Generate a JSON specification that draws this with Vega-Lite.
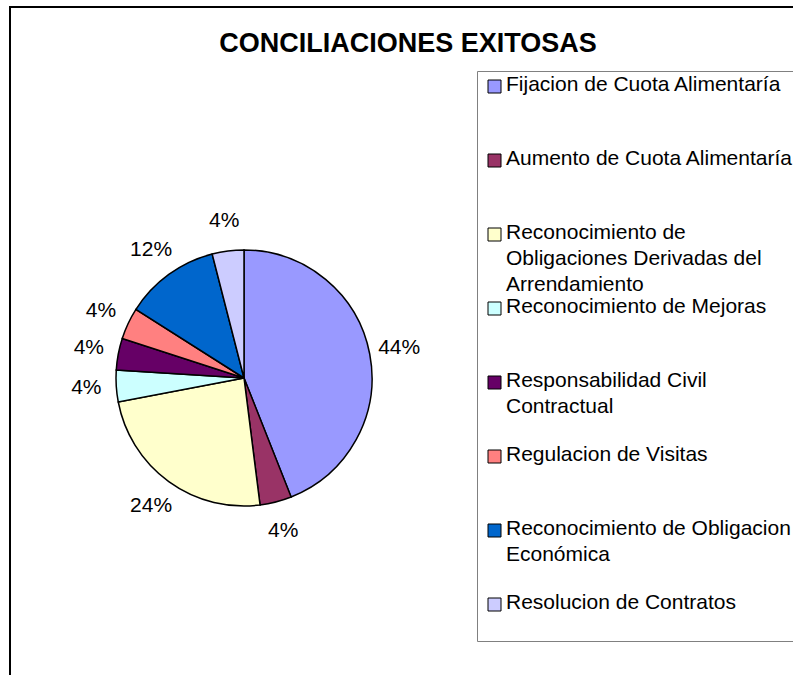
{
  "$schema": "https://vega.github.io/schema/vega-lite/v6.json",
  "autosize": {"type": "none"},
  "width": 796,
  "height": 700,
  "padding": {"left": 10, "top": 7, "right": -13, "bottom": -32},
  "background": "white",
  "view": {"stroke": "#000000", "strokeWidth": 2, "fill": "#ffffff"},
  "title": {
    "text": "CONCILIACIONES EXITOSAS",
    "font": "Liberation Sans",
    "fontSize": 27,
    "fontWeight": "bold",
    "color": "#000000",
    "anchor": "middle",
    "baseline": "alphabetic",
    "offset": -46,
    "dy": 26
  },
  "data": {
    "values": [
      {"orden": 1, "tipo": "Fijacion de Cuota Alimentaría", "pct": 0.44},
      {"orden": 2, "tipo": "Aumento de Cuota Alimentaría", "pct": 0.04},
      {"orden": 3, "tipo": "Reconocimiento de Obligaciones Derivadas del Arrendamiento", "pct": 0.24},
      {"orden": 4, "tipo": "Reconocimiento de Mejoras", "pct": 0.04},
      {"orden": 5, "tipo": "Responsabilidad Civil Contractual", "pct": 0.04},
      {"orden": 6, "tipo": "Regulacion de Visitas", "pct": 0.04},
      {"orden": 7, "tipo": "Reconocimiento de Obligacion Económica", "pct": 0.12},
      {"orden": 8, "tipo": "Resolucion de Contratos", "pct": 0.04}
    ]
  },
  "encoding": {
    "theta": {"field": "pct", "type": "quantitative", "stack": true},
    "order": {"field": "orden", "type": "quantitative"}
  },
  "layer": [
    {
      "mark": {"type": "arc", "outerRadius": 128, "x": 234, "y": 371, "stroke": "#000000", "strokeWidth": 1.5},
      "encoding": {
        "color": {
          "field": "tipo",
          "type": "nominal",
          "scale": {
            "domain": [
              "Fijacion de Cuota Alimentaría",
              "Aumento de Cuota Alimentaría",
              "Reconocimiento de Obligaciones Derivadas del Arrendamiento",
              "Reconocimiento de Mejoras",
              "Responsabilidad Civil Contractual",
              "Regulacion de Visitas",
              "Reconocimiento de Obligacion Económica",
              "Resolucion de Contratos"
            ],
            "range": ["#9999FF", "#993366", "#FFFFCC", "#CCFFFF", "#660066", "#FF8080", "#0066CC", "#CCCCFF"]
          },
          "legend": {
            "orient": "none",
            "legendX": 467,
            "legendY": 64,
            "title": "\u00a0",
            "titleOrient": "bottom",
            "titleFontSize": 10,
            "titlePadding": 13,
            "symbolType": "square",
            "symbolSize": 169,
            "symbolStrokeColor": "#000000",
            "symbolStrokeWidth": 1,
            "symbolOpacity": 1,
            "labelFont": "Liberation Sans",
            "labelFontSize": 21,
            "labelColor": "#000000",
            "labelLimit": 400,
            "labelBaseline": "top",
            "labelOffset": 1,
            "symbolOffset": 2,
            "gridAlign": "all",
            "rowPadding": 1,
            "padding": 5,
            "strokeColor": "#808080",
            "fillColor": "#ffffff",
            "labelExpr": "datum.label == 'Reconocimiento de Obligaciones Derivadas del Arrendamiento' ? ['Reconocimiento de', 'Obligaciones Derivadas del', 'Arrendamiento'] : datum.label == 'Responsabilidad Civil Contractual' ? ['Responsabilidad Civil', 'Contractual'] : datum.label == 'Reconocimiento de Obligacion Económica' ? ['Reconocimiento de Obligacion', 'Económica'] : datum.label",
            "encode": {"labels": {"update": {"dy": {"value": -12.5}, "lineHeight": {"value": 26}}}}
          }
        }
      }
    },
    {
      "mark": {"type": "text", "radius": 158, "x": 234, "y": 371, "font": "Liberation Sans", "fontSize": 21, "fill": "#000000"},
      "encoding": {
        "text": {"field": "pct", "type": "quantitative", "format": ".0%"}
      }
    }
  ],
  "config": {
    "view": {"stroke": "#000000", "strokeWidth": 2}
  }
}
